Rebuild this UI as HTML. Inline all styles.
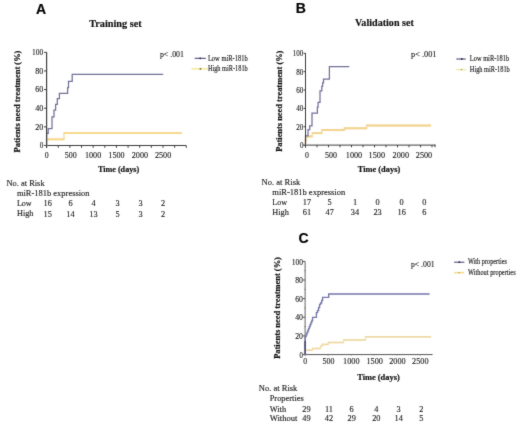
<!DOCTYPE html>
<html><head><meta charset="utf-8"><style>
html,body{margin:0;padding:0;background:#fff;width:520px;height:426px;overflow:hidden;font-family:"Liberation Serif",serif;}
svg{display:block;will-change:transform}
</style></head><body>
<svg width="520" height="426" viewBox="0 0 520 426">
<defs><filter id="bl" x="0" y="0" width="1" height="1" color-interpolation-filters="sRGB"><feConvolveMatrix order="3" kernelMatrix="0.02 0.07 0.02 0.07 0.64 0.07 0.02 0.07 0.02" edgeMode="duplicate" preserveAlpha="true"/></filter></defs>
<g filter="url(#bl)">
<rect width="520" height="426" fill="#fff"/>
<text x="36.0" y="14" font-family="'Liberation Sans', sans-serif" font-size="14" font-weight="bold" fill="#000" stroke="#000" stroke-width="0.18">A</text>
<text x="89.2" y="26.6" font-family="'Liberation Serif', serif" font-size="10.8" font-weight="bold" textLength="52.5" lengthAdjust="spacingAndGlyphs" fill="#111" stroke="#111" stroke-width="0.18">Training set</text>
<text transform="translate(20.0,152.4) rotate(-90)" font-family="'Liberation Serif', serif" font-size="8.8" font-weight="bold" textLength="101.8" lengthAdjust="spacingAndGlyphs" fill="#111" stroke="#111" stroke-width="0.2">Patients need treatment (%)</text>
<line x1="46.6" y1="52.3" x2="46.6" y2="147.8" stroke="#3c3c3c" stroke-width="1"/>
<line x1="44.0" y1="145.5" x2="186.3" y2="145.5" stroke="#3c3c3c" stroke-width="1"/>
<line x1="44.0" y1="52.3" x2="46.6" y2="52.3" stroke="#3c3c3c" stroke-width="1"/>
<text x="43.3" y="55.4" font-family="'Liberation Serif', serif" font-size="9" text-anchor="end" textLength="11.2" lengthAdjust="spacingAndGlyphs" fill="#222" stroke="#222" stroke-width="0.14">100</text>
<line x1="44.0" y1="70.94" x2="46.6" y2="70.94" stroke="#3c3c3c" stroke-width="1"/>
<text x="43.3" y="73.8" font-family="'Liberation Serif', serif" font-size="9" text-anchor="end" textLength="8.1" lengthAdjust="spacingAndGlyphs" fill="#222" stroke="#222" stroke-width="0.14">80</text>
<line x1="44.0" y1="89.58" x2="46.6" y2="89.58" stroke="#3c3c3c" stroke-width="1"/>
<text x="43.3" y="92.3" font-family="'Liberation Serif', serif" font-size="9" text-anchor="end" textLength="8.1" lengthAdjust="spacingAndGlyphs" fill="#222" stroke="#222" stroke-width="0.14">60</text>
<line x1="44.0" y1="108.22" x2="46.6" y2="108.22" stroke="#3c3c3c" stroke-width="1"/>
<text x="43.3" y="111.3" font-family="'Liberation Serif', serif" font-size="9" text-anchor="end" textLength="8.1" lengthAdjust="spacingAndGlyphs" fill="#222" stroke="#222" stroke-width="0.14">40</text>
<line x1="44.0" y1="126.86" x2="46.6" y2="126.86" stroke="#3c3c3c" stroke-width="1"/>
<text x="43.3" y="129.6" font-family="'Liberation Serif', serif" font-size="9" text-anchor="end" textLength="8.1" lengthAdjust="spacingAndGlyphs" fill="#222" stroke="#222" stroke-width="0.14">20</text>
<line x1="44.0" y1="145.5" x2="46.6" y2="145.5" stroke="#3c3c3c" stroke-width="1"/>
<text x="43.3" y="147.8" font-family="'Liberation Serif', serif" font-size="9" text-anchor="end" textLength="3.6" lengthAdjust="spacingAndGlyphs" fill="#222" stroke="#222" stroke-width="0.14">0</text>
<line x1="46.6" y1="145.5" x2="46.6" y2="147.8" stroke="#3c3c3c" stroke-width="1"/>
<line x1="58.24" y1="145.5" x2="58.24" y2="147.8" stroke="#3c3c3c" stroke-width="1"/>
<line x1="69.88" y1="145.5" x2="69.88" y2="147.8" stroke="#3c3c3c" stroke-width="1"/>
<line x1="81.52000000000001" y1="145.5" x2="81.52000000000001" y2="147.8" stroke="#3c3c3c" stroke-width="1"/>
<line x1="93.16" y1="145.5" x2="93.16" y2="147.8" stroke="#3c3c3c" stroke-width="1"/>
<line x1="104.80000000000001" y1="145.5" x2="104.80000000000001" y2="147.8" stroke="#3c3c3c" stroke-width="1"/>
<line x1="116.44" y1="145.5" x2="116.44" y2="147.8" stroke="#3c3c3c" stroke-width="1"/>
<line x1="128.08" y1="145.5" x2="128.08" y2="147.8" stroke="#3c3c3c" stroke-width="1"/>
<line x1="139.72" y1="145.5" x2="139.72" y2="147.8" stroke="#3c3c3c" stroke-width="1"/>
<line x1="151.36" y1="145.5" x2="151.36" y2="147.8" stroke="#3c3c3c" stroke-width="1"/>
<line x1="163.0" y1="145.5" x2="163.0" y2="147.8" stroke="#3c3c3c" stroke-width="1"/>
<line x1="174.64000000000001" y1="145.5" x2="174.64000000000001" y2="147.8" stroke="#3c3c3c" stroke-width="1"/>
<line x1="186.28" y1="145.5" x2="186.28" y2="147.8" stroke="#3c3c3c" stroke-width="1"/>
<text x="46.7" y="157.6" font-family="'Liberation Serif', serif" font-size="9" text-anchor="middle" textLength="3.9" lengthAdjust="spacingAndGlyphs" fill="#222" stroke="#222" stroke-width="0.14">0</text>
<text x="70.7" y="157.6" font-family="'Liberation Serif', serif" font-size="9" text-anchor="middle" textLength="11.9" lengthAdjust="spacingAndGlyphs" fill="#222" stroke="#222" stroke-width="0.14">500</text>
<text x="93.1" y="157.6" font-family="'Liberation Serif', serif" font-size="9" text-anchor="middle" textLength="16.3" lengthAdjust="spacingAndGlyphs" fill="#222" stroke="#222" stroke-width="0.14">1000</text>
<text x="116.5" y="157.6" font-family="'Liberation Serif', serif" font-size="9" text-anchor="middle" textLength="16.3" lengthAdjust="spacingAndGlyphs" fill="#222" stroke="#222" stroke-width="0.14">1500</text>
<text x="139.9" y="157.6" font-family="'Liberation Serif', serif" font-size="9" text-anchor="middle" textLength="16.3" lengthAdjust="spacingAndGlyphs" fill="#222" stroke="#222" stroke-width="0.14">2000</text>
<text x="163.1" y="157.6" font-family="'Liberation Serif', serif" font-size="9" text-anchor="middle" textLength="16.3" lengthAdjust="spacingAndGlyphs" fill="#222" stroke="#222" stroke-width="0.14">2500</text>
<text x="97.9" y="171.7" font-family="'Liberation Serif', serif" font-size="8.3" font-weight="bold" textLength="41.3" lengthAdjust="spacingAndGlyphs" fill="#111" stroke="#111" stroke-width="0.18">Time (days)</text>
<text x="159.9" y="56.8" font-family="'Liberation Serif', serif" font-size="8.5" textLength="24" lengthAdjust="spacingAndGlyphs" fill="#222" stroke="#222" stroke-width="0.14">p&lt; .001</text>
<line x1="194.7" y1="58.3" x2="205.8" y2="58.3" stroke="#3a3a6a" stroke-width="1.0"/>
<circle cx="200.2" cy="58.3" r="0.9" fill="#22224a"/>
<line x1="191.4" y1="68.8" x2="207.6" y2="68.8" stroke="#f4efb0" stroke-width="2"/>
<circle cx="200.4" cy="68.8" r="0.9" fill="#6b6430"/>
<text x="207.9" y="61" font-family="'Liberation Serif', serif" font-size="7.2" textLength="39.8" lengthAdjust="spacingAndGlyphs" fill="#222" stroke="#222" stroke-width="0.14">Low miR-181b</text>
<text x="207.9" y="71" font-family="'Liberation Serif', serif" font-size="7.2" textLength="39.8" lengthAdjust="spacingAndGlyphs" fill="#222" stroke="#222" stroke-width="0.14">High miR-181b</text>
<path d="M46.6,145.5 L46.6,145.5 L46.6,139.3 L64.0,139.3 L64.0,132.9 L181.5,132.9 L181.5,132.9" fill="none" stroke="#f8e8c0" stroke-width="2.0" stroke-linejoin="miter"/>
<line x1="46.3" y1="139.3" x2="64.3" y2="139.3" stroke="#f6d98e" stroke-width="2.0"/>
<line x1="63.7" y1="132.9" x2="181.8" y2="132.9" stroke="#f6d98e" stroke-width="2.0"/>
<path d="M46.6,145.5 L46.6,145.5 L46.6,133.4 L48.2,133.4 L48.2,128.5 L52.0,128.5 L52.0,116.9 L54.0,116.9 L54.0,110.2 L55.6,110.2 L55.6,104.4 L57.3,104.4 L57.3,98.7 L59.4,98.7 L59.4,93.3 L67.6,93.3 L67.6,87.5 L68.5,87.5 L68.5,81.4 L72.2,81.4 L72.2,74.4 L163.2,74.4 L163.2,74.4" fill="none" stroke="#71709a" stroke-width="1.25" stroke-linejoin="miter"/>
<line x1="46.6" y1="52.3" x2="46.6" y2="147.8" stroke="#3c3c3c" stroke-width="1"/>
<text x="6.5" y="185.8" font-family="'Liberation Serif', serif" font-size="8.3" textLength="38.1" lengthAdjust="spacingAndGlyphs" fill="#222" stroke="#222" stroke-width="0.14">No. at Risk</text>
<text x="16.9" y="195.8" font-family="'Liberation Serif', serif" font-size="8.3" textLength="72.7" lengthAdjust="spacingAndGlyphs" fill="#222" stroke="#222" stroke-width="0.14">miR-181b expression</text>
<text x="16.9" y="206.3" font-family="'Liberation Serif', serif" font-size="8.3" textLength="14.8" lengthAdjust="spacingAndGlyphs" fill="#222" stroke="#222" stroke-width="0.14">Low</text>
<text x="16.9" y="216.4" font-family="'Liberation Serif', serif" font-size="8.3" textLength="16.6" lengthAdjust="spacingAndGlyphs" fill="#222" stroke="#222" stroke-width="0.14">High</text>
<text x="47.7" y="206.4" font-family="'Liberation Serif', serif" font-size="8.3" text-anchor="middle" fill="#222" stroke="#222" stroke-width="0.14">16</text>
<text x="47.7" y="216.7" font-family="'Liberation Serif', serif" font-size="8.3" text-anchor="middle" fill="#222" stroke="#222" stroke-width="0.14">15</text>
<text x="70.5" y="206.4" font-family="'Liberation Serif', serif" font-size="8.3" text-anchor="middle" fill="#222" stroke="#222" stroke-width="0.14">6</text>
<text x="70.5" y="216.7" font-family="'Liberation Serif', serif" font-size="8.3" text-anchor="middle" fill="#222" stroke="#222" stroke-width="0.14">14</text>
<text x="93.5" y="206.4" font-family="'Liberation Serif', serif" font-size="8.3" text-anchor="middle" fill="#222" stroke="#222" stroke-width="0.14">4</text>
<text x="93.5" y="216.7" font-family="'Liberation Serif', serif" font-size="8.3" text-anchor="middle" fill="#222" stroke="#222" stroke-width="0.14">13</text>
<text x="117.5" y="206.4" font-family="'Liberation Serif', serif" font-size="8.3" text-anchor="middle" fill="#222" stroke="#222" stroke-width="0.14">3</text>
<text x="117.5" y="216.7" font-family="'Liberation Serif', serif" font-size="8.3" text-anchor="middle" fill="#222" stroke="#222" stroke-width="0.14">5</text>
<text x="140.6" y="206.4" font-family="'Liberation Serif', serif" font-size="8.3" text-anchor="middle" fill="#222" stroke="#222" stroke-width="0.14">3</text>
<text x="140.6" y="216.7" font-family="'Liberation Serif', serif" font-size="8.3" text-anchor="middle" fill="#222" stroke="#222" stroke-width="0.14">3</text>
<text x="163.1" y="206.4" font-family="'Liberation Serif', serif" font-size="8.3" text-anchor="middle" fill="#222" stroke="#222" stroke-width="0.14">2</text>
<text x="163.1" y="216.7" font-family="'Liberation Serif', serif" font-size="8.3" text-anchor="middle" fill="#222" stroke="#222" stroke-width="0.14">2</text>
<text x="295.8" y="13" font-family="'Liberation Sans', sans-serif" font-size="14" font-weight="bold" fill="#000" stroke="#000" stroke-width="0.18">B</text>
<text x="355.0" y="26.4" font-family="'Liberation Serif', serif" font-size="10.8" font-weight="bold" textLength="58.8" lengthAdjust="spacingAndGlyphs" fill="#111" stroke="#111" stroke-width="0.18">Validation set</text>
<text transform="translate(282.0,151.8) rotate(-90)" font-family="'Liberation Serif', serif" font-size="8.8" font-weight="bold" textLength="101.2" lengthAdjust="spacingAndGlyphs" fill="#111" stroke="#111" stroke-width="0.2">Patients need treatment (%)</text>
<line x1="305.5" y1="53.3" x2="305.5" y2="147.4" stroke="#3c3c3c" stroke-width="1"/>
<line x1="303.4" y1="145.1" x2="435.4" y2="145.1" stroke="#3c3c3c" stroke-width="1"/>
<line x1="303.5" y1="53.3" x2="305.5" y2="53.3" stroke="#3c3c3c" stroke-width="1"/>
<text x="303.4" y="56.099999999999994" font-family="'Liberation Serif', serif" font-size="9" text-anchor="end" textLength="10.6" lengthAdjust="spacingAndGlyphs" fill="#222" stroke="#222" stroke-width="0.14">100</text>
<line x1="303.5" y1="71.66" x2="305.5" y2="71.66" stroke="#3c3c3c" stroke-width="1"/>
<text x="303.4" y="74.89999999999999" font-family="'Liberation Serif', serif" font-size="9" text-anchor="end" textLength="7.1" lengthAdjust="spacingAndGlyphs" fill="#222" stroke="#222" stroke-width="0.14">80</text>
<line x1="303.5" y1="90.02" x2="305.5" y2="90.02" stroke="#3c3c3c" stroke-width="1"/>
<text x="303.4" y="93.1" font-family="'Liberation Serif', serif" font-size="9" text-anchor="end" textLength="7.1" lengthAdjust="spacingAndGlyphs" fill="#222" stroke="#222" stroke-width="0.14">60</text>
<line x1="303.5" y1="108.38" x2="305.5" y2="108.38" stroke="#3c3c3c" stroke-width="1"/>
<text x="303.4" y="111.0" font-family="'Liberation Serif', serif" font-size="9" text-anchor="end" textLength="7.1" lengthAdjust="spacingAndGlyphs" fill="#222" stroke="#222" stroke-width="0.14">40</text>
<line x1="303.5" y1="126.74" x2="305.5" y2="126.74" stroke="#3c3c3c" stroke-width="1"/>
<text x="303.4" y="130.0" font-family="'Liberation Serif', serif" font-size="9" text-anchor="end" textLength="7.1" lengthAdjust="spacingAndGlyphs" fill="#222" stroke="#222" stroke-width="0.14">20</text>
<line x1="303.5" y1="145.1" x2="305.5" y2="145.1" stroke="#3c3c3c" stroke-width="1"/>
<text x="303.4" y="147.9" font-family="'Liberation Serif', serif" font-size="9" text-anchor="end" textLength="3.5" lengthAdjust="spacingAndGlyphs" fill="#222" stroke="#222" stroke-width="0.14">0</text>
<line x1="305.5" y1="145.1" x2="305.5" y2="147.3" stroke="#3c3c3c" stroke-width="1"/>
<line x1="317.0" y1="145.1" x2="317.0" y2="147.3" stroke="#3c3c3c" stroke-width="1"/>
<line x1="328.5" y1="145.1" x2="328.5" y2="147.3" stroke="#3c3c3c" stroke-width="1"/>
<line x1="340.0" y1="145.1" x2="340.0" y2="147.3" stroke="#3c3c3c" stroke-width="1"/>
<line x1="351.5" y1="145.1" x2="351.5" y2="147.3" stroke="#3c3c3c" stroke-width="1"/>
<line x1="363.0" y1="145.1" x2="363.0" y2="147.3" stroke="#3c3c3c" stroke-width="1"/>
<line x1="374.5" y1="145.1" x2="374.5" y2="147.3" stroke="#3c3c3c" stroke-width="1"/>
<line x1="386.0" y1="145.1" x2="386.0" y2="147.3" stroke="#3c3c3c" stroke-width="1"/>
<line x1="397.5" y1="145.1" x2="397.5" y2="147.3" stroke="#3c3c3c" stroke-width="1"/>
<line x1="409.0" y1="145.1" x2="409.0" y2="147.3" stroke="#3c3c3c" stroke-width="1"/>
<line x1="420.5" y1="145.1" x2="420.5" y2="147.3" stroke="#3c3c3c" stroke-width="1"/>
<line x1="432.0" y1="145.1" x2="432.0" y2="147.3" stroke="#3c3c3c" stroke-width="1"/>
<line x1="435.0" y1="144.6" x2="435.0" y2="147.3" stroke="#3c3c3c" stroke-width="1"/>
<text x="306.9" y="157.6" font-family="'Liberation Serif', serif" font-size="9" text-anchor="middle" textLength="3.9" lengthAdjust="spacingAndGlyphs" fill="#222" stroke="#222" stroke-width="0.14">0</text>
<text x="331.0" y="157.6" font-family="'Liberation Serif', serif" font-size="9" text-anchor="middle" textLength="12.0" lengthAdjust="spacingAndGlyphs" fill="#222" stroke="#222" stroke-width="0.14">500</text>
<text x="354.0" y="157.6" font-family="'Liberation Serif', serif" font-size="9" text-anchor="middle" textLength="16.4" lengthAdjust="spacingAndGlyphs" fill="#222" stroke="#222" stroke-width="0.14">1000</text>
<text x="376.8" y="157.6" font-family="'Liberation Serif', serif" font-size="9" text-anchor="middle" textLength="16.4" lengthAdjust="spacingAndGlyphs" fill="#222" stroke="#222" stroke-width="0.14">1500</text>
<text x="400.8" y="157.6" font-family="'Liberation Serif', serif" font-size="9" text-anchor="middle" textLength="16.4" lengthAdjust="spacingAndGlyphs" fill="#222" stroke="#222" stroke-width="0.14">2000</text>
<text x="424.0" y="157.6" font-family="'Liberation Serif', serif" font-size="9" text-anchor="middle" textLength="16.4" lengthAdjust="spacingAndGlyphs" fill="#222" stroke="#222" stroke-width="0.14">2500</text>
<text x="357.8" y="171.7" font-family="'Liberation Serif', serif" font-size="8.3" font-weight="bold" textLength="42.4" lengthAdjust="spacingAndGlyphs" fill="#111" stroke="#111" stroke-width="0.18">Time (days)</text>
<text x="411.0" y="57.1" font-family="'Liberation Serif', serif" font-size="8.5" textLength="25.5" lengthAdjust="spacingAndGlyphs" fill="#222" stroke="#222" stroke-width="0.14">p&lt; .001</text>
<line x1="456.3" y1="59.0" x2="465.7" y2="59.0" stroke="#3a3a6a" stroke-width="1.0"/>
<circle cx="461.8" cy="59.0" r="0.9" fill="#22224a"/>
<line x1="456.3" y1="69.6" x2="466.0" y2="69.6" stroke="#f0e9a8" stroke-width="1.6"/>
<circle cx="461.5" cy="69.6" r="0.7" fill="#8a8040"/>
<text x="469.8" y="61" font-family="'Liberation Serif', serif" font-size="7.2" textLength="39.3" lengthAdjust="spacingAndGlyphs" fill="#222" stroke="#222" stroke-width="0.14">Low miR-181b</text>
<text x="469.8" y="72" font-family="'Liberation Serif', serif" font-size="7.2" textLength="40.0" lengthAdjust="spacingAndGlyphs" fill="#222" stroke="#222" stroke-width="0.14">High miR-181b</text>
<path d="M305.5,145.1 L305.5,145.1 L305.5,140.0 L306.3,140.0 L306.3,136.4 L312.3,136.4 L312.3,133.1 L321.8,133.1 L321.8,130.0 L344.4,130.0 L344.4,128.3 L366.6,128.3 L366.6,125.4 L430.7,125.4 L430.7,125.4" fill="none" stroke="#f6e6c0" stroke-width="2.0" stroke-linejoin="miter"/>
<line x1="305.2" y1="140.0" x2="306.6" y2="140.0" stroke="#f3d48e" stroke-width="2.0"/>
<line x1="306.0" y1="136.4" x2="312.6" y2="136.4" stroke="#f3d48e" stroke-width="2.0"/>
<line x1="312.0" y1="133.1" x2="322.1" y2="133.1" stroke="#f3d48e" stroke-width="2.0"/>
<line x1="321.5" y1="130.0" x2="344.7" y2="130.0" stroke="#f3d48e" stroke-width="2.0"/>
<line x1="344.1" y1="128.3" x2="366.9" y2="128.3" stroke="#f3d48e" stroke-width="2.0"/>
<line x1="366.3" y1="125.4" x2="431.0" y2="125.4" stroke="#f3d48e" stroke-width="2.0"/>
<path d="M305.5,145.1 L305.5,145.1 L305.5,135.8 L308.0,135.8 L308.0,129.6 L309.7,129.6 L309.7,125.8 L312.0,125.8 L312.0,113.0 L317.4,113.0 L317.4,107.0 L318.1,107.0 L318.1,102.3 L320.0,102.3 L320.0,90.9 L321.8,90.9 L321.8,86.4 L322.6,86.4 L322.6,82.9 L323.5,82.9 L323.5,79.0 L329.4,79.0 L329.4,66.5 L349.3,66.5 L349.3,66.5" fill="none" stroke="#71709a" stroke-width="1.25" stroke-linejoin="miter"/>
<line x1="305.5" y1="53.3" x2="305.5" y2="147.4" stroke="#3c3c3c" stroke-width="1"/>
<text x="261.6" y="184.7" font-family="'Liberation Serif', serif" font-size="8.3" textLength="38.7" lengthAdjust="spacingAndGlyphs" fill="#222" stroke="#222" stroke-width="0.14">No. at Risk</text>
<text x="272.3" y="195.1" font-family="'Liberation Serif', serif" font-size="8.3" textLength="72.9" lengthAdjust="spacingAndGlyphs" fill="#222" stroke="#222" stroke-width="0.14">miR-181b expression</text>
<text x="272.3" y="204.8" font-family="'Liberation Serif', serif" font-size="8.3" textLength="14.8" lengthAdjust="spacingAndGlyphs" fill="#222" stroke="#222" stroke-width="0.14">Low</text>
<text x="272.3" y="215.0" font-family="'Liberation Serif', serif" font-size="8.3" textLength="16.6" lengthAdjust="spacingAndGlyphs" fill="#222" stroke="#222" stroke-width="0.14">High</text>
<text x="306.9" y="204.8" font-family="'Liberation Serif', serif" font-size="8.3" text-anchor="middle" fill="#222" stroke="#222" stroke-width="0.14">17</text>
<text x="306.9" y="215.2" font-family="'Liberation Serif', serif" font-size="8.3" text-anchor="middle" fill="#222" stroke="#222" stroke-width="0.14">61</text>
<text x="329.7" y="204.8" font-family="'Liberation Serif', serif" font-size="8.3" text-anchor="middle" fill="#222" stroke="#222" stroke-width="0.14">5</text>
<text x="329.7" y="215.2" font-family="'Liberation Serif', serif" font-size="8.3" text-anchor="middle" fill="#222" stroke="#222" stroke-width="0.14">47</text>
<text x="355.0" y="204.8" font-family="'Liberation Serif', serif" font-size="8.3" text-anchor="middle" fill="#222" stroke="#222" stroke-width="0.14">1</text>
<text x="355.0" y="215.2" font-family="'Liberation Serif', serif" font-size="8.3" text-anchor="middle" fill="#222" stroke="#222" stroke-width="0.14">34</text>
<text x="377.6" y="204.8" font-family="'Liberation Serif', serif" font-size="8.3" text-anchor="middle" fill="#222" stroke="#222" stroke-width="0.14">0</text>
<text x="377.6" y="215.2" font-family="'Liberation Serif', serif" font-size="8.3" text-anchor="middle" fill="#222" stroke="#222" stroke-width="0.14">23</text>
<text x="401.7" y="204.8" font-family="'Liberation Serif', serif" font-size="8.3" text-anchor="middle" fill="#222" stroke="#222" stroke-width="0.14">0</text>
<text x="401.7" y="215.2" font-family="'Liberation Serif', serif" font-size="8.3" text-anchor="middle" fill="#222" stroke="#222" stroke-width="0.14">16</text>
<text x="424.4" y="204.8" font-family="'Liberation Serif', serif" font-size="8.3" text-anchor="middle" fill="#222" stroke="#222" stroke-width="0.14">0</text>
<text x="424.4" y="215.2" font-family="'Liberation Serif', serif" font-size="8.3" text-anchor="middle" fill="#222" stroke="#222" stroke-width="0.14">6</text>
<text x="298.6" y="243" font-family="'Liberation Sans', sans-serif" font-size="14" font-weight="bold" fill="#000" stroke="#000" stroke-width="0.18">C</text>
<text transform="translate(280.3,358.8) rotate(-90)" font-family="'Liberation Serif', serif" font-size="8.8" font-weight="bold" textLength="101.7" lengthAdjust="spacingAndGlyphs" fill="#111" stroke="#111" stroke-width="0.2">Patients need treatment (%)</text>
<line x1="305.1" y1="261.4" x2="305.1" y2="356.0" stroke="#606060" stroke-width="1"/>
<line x1="305.1" y1="354.5" x2="432.6" y2="354.5" stroke="#606060" stroke-width="1"/>
<line x1="302.9" y1="261.4" x2="305.1" y2="261.4" stroke="#555" stroke-width="1"/>
<text x="303.0" y="264.8" font-family="'Liberation Serif', serif" font-size="9" text-anchor="end" textLength="11.3" lengthAdjust="spacingAndGlyphs" fill="#222" stroke="#222" stroke-width="0.14">100</text>
<line x1="302.9" y1="280.02" x2="305.1" y2="280.02" stroke="#555" stroke-width="1"/>
<text x="303.0" y="283.0" font-family="'Liberation Serif', serif" font-size="9" text-anchor="end" textLength="7.8" lengthAdjust="spacingAndGlyphs" fill="#222" stroke="#222" stroke-width="0.14">80</text>
<line x1="302.9" y1="298.64" x2="305.1" y2="298.64" stroke="#555" stroke-width="1"/>
<text x="303.0" y="301.6" font-family="'Liberation Serif', serif" font-size="9" text-anchor="end" textLength="7.8" lengthAdjust="spacingAndGlyphs" fill="#222" stroke="#222" stroke-width="0.14">60</text>
<line x1="302.9" y1="317.26" x2="305.1" y2="317.26" stroke="#555" stroke-width="1"/>
<text x="303.0" y="320.3" font-family="'Liberation Serif', serif" font-size="9" text-anchor="end" textLength="7.8" lengthAdjust="spacingAndGlyphs" fill="#222" stroke="#222" stroke-width="0.14">40</text>
<line x1="302.9" y1="335.88" x2="305.1" y2="335.88" stroke="#555" stroke-width="1"/>
<text x="303.0" y="339.2" font-family="'Liberation Serif', serif" font-size="9" text-anchor="end" textLength="7.8" lengthAdjust="spacingAndGlyphs" fill="#222" stroke="#222" stroke-width="0.14">20</text>
<line x1="302.9" y1="354.5" x2="305.1" y2="354.5" stroke="#555" stroke-width="1"/>
<text x="303.0" y="357.5" font-family="'Liberation Serif', serif" font-size="9" text-anchor="end" textLength="3.4" lengthAdjust="spacingAndGlyphs" fill="#222" stroke="#222" stroke-width="0.14">0</text>
<line x1="304.3" y1="345.19" x2="305.90000000000003" y2="345.19" stroke="#777" stroke-width="0.8"/>
<line x1="304.3" y1="326.57" x2="305.90000000000003" y2="326.57" stroke="#777" stroke-width="0.8"/>
<line x1="304.3" y1="307.95" x2="305.90000000000003" y2="307.95" stroke="#777" stroke-width="0.8"/>
<line x1="304.3" y1="289.33" x2="305.90000000000003" y2="289.33" stroke="#777" stroke-width="0.8"/>
<line x1="304.3" y1="270.71" x2="305.90000000000003" y2="270.71" stroke="#777" stroke-width="0.8"/>
<line x1="307.40000000000003" y1="354.5" x2="307.40000000000003" y2="355.4" stroke="#777" stroke-width="0.6"/>
<line x1="309.70000000000005" y1="354.5" x2="309.70000000000005" y2="355.4" stroke="#777" stroke-width="0.6"/>
<line x1="312.0" y1="354.5" x2="312.0" y2="355.4" stroke="#777" stroke-width="0.6"/>
<line x1="314.3" y1="354.5" x2="314.3" y2="355.4" stroke="#777" stroke-width="0.6"/>
<line x1="316.6" y1="354.5" x2="316.6" y2="355.4" stroke="#777" stroke-width="0.6"/>
<line x1="318.90000000000003" y1="354.5" x2="318.90000000000003" y2="355.4" stroke="#777" stroke-width="0.6"/>
<line x1="321.20000000000005" y1="354.5" x2="321.20000000000005" y2="355.4" stroke="#777" stroke-width="0.6"/>
<line x1="323.5" y1="354.5" x2="323.5" y2="355.4" stroke="#777" stroke-width="0.6"/>
<line x1="325.8" y1="354.5" x2="325.8" y2="355.4" stroke="#777" stroke-width="0.6"/>
<line x1="328.1" y1="354.5" x2="328.1" y2="356.1" stroke="#777" stroke-width="0.6"/>
<line x1="330.40000000000003" y1="354.5" x2="330.40000000000003" y2="355.4" stroke="#777" stroke-width="0.6"/>
<line x1="332.70000000000005" y1="354.5" x2="332.70000000000005" y2="355.4" stroke="#777" stroke-width="0.6"/>
<line x1="335.0" y1="354.5" x2="335.0" y2="355.4" stroke="#777" stroke-width="0.6"/>
<line x1="337.3" y1="354.5" x2="337.3" y2="355.4" stroke="#777" stroke-width="0.6"/>
<line x1="339.6" y1="354.5" x2="339.6" y2="355.4" stroke="#777" stroke-width="0.6"/>
<line x1="341.90000000000003" y1="354.5" x2="341.90000000000003" y2="355.4" stroke="#777" stroke-width="0.6"/>
<line x1="344.20000000000005" y1="354.5" x2="344.20000000000005" y2="355.4" stroke="#777" stroke-width="0.6"/>
<line x1="346.5" y1="354.5" x2="346.5" y2="355.4" stroke="#777" stroke-width="0.6"/>
<line x1="348.8" y1="354.5" x2="348.8" y2="355.4" stroke="#777" stroke-width="0.6"/>
<line x1="351.1" y1="354.5" x2="351.1" y2="356.1" stroke="#777" stroke-width="0.6"/>
<line x1="353.40000000000003" y1="354.5" x2="353.40000000000003" y2="355.4" stroke="#777" stroke-width="0.6"/>
<line x1="355.70000000000005" y1="354.5" x2="355.70000000000005" y2="355.4" stroke="#777" stroke-width="0.6"/>
<line x1="358.0" y1="354.5" x2="358.0" y2="355.4" stroke="#777" stroke-width="0.6"/>
<line x1="360.3" y1="354.5" x2="360.3" y2="355.4" stroke="#777" stroke-width="0.6"/>
<line x1="362.6" y1="354.5" x2="362.6" y2="355.4" stroke="#777" stroke-width="0.6"/>
<line x1="364.90000000000003" y1="354.5" x2="364.90000000000003" y2="355.4" stroke="#777" stroke-width="0.6"/>
<line x1="367.20000000000005" y1="354.5" x2="367.20000000000005" y2="355.4" stroke="#777" stroke-width="0.6"/>
<line x1="369.5" y1="354.5" x2="369.5" y2="355.4" stroke="#777" stroke-width="0.6"/>
<line x1="371.8" y1="354.5" x2="371.8" y2="355.4" stroke="#777" stroke-width="0.6"/>
<line x1="374.1" y1="354.5" x2="374.1" y2="356.1" stroke="#777" stroke-width="0.6"/>
<line x1="376.40000000000003" y1="354.5" x2="376.40000000000003" y2="355.4" stroke="#777" stroke-width="0.6"/>
<line x1="378.70000000000005" y1="354.5" x2="378.70000000000005" y2="355.4" stroke="#777" stroke-width="0.6"/>
<line x1="381.0" y1="354.5" x2="381.0" y2="355.4" stroke="#777" stroke-width="0.6"/>
<line x1="383.3" y1="354.5" x2="383.3" y2="355.4" stroke="#777" stroke-width="0.6"/>
<line x1="385.6" y1="354.5" x2="385.6" y2="355.4" stroke="#777" stroke-width="0.6"/>
<line x1="387.90000000000003" y1="354.5" x2="387.90000000000003" y2="355.4" stroke="#777" stroke-width="0.6"/>
<line x1="390.20000000000005" y1="354.5" x2="390.20000000000005" y2="355.4" stroke="#777" stroke-width="0.6"/>
<line x1="392.5" y1="354.5" x2="392.5" y2="355.4" stroke="#777" stroke-width="0.6"/>
<line x1="394.8" y1="354.5" x2="394.8" y2="355.4" stroke="#777" stroke-width="0.6"/>
<line x1="397.1" y1="354.5" x2="397.1" y2="356.1" stroke="#777" stroke-width="0.6"/>
<line x1="399.40000000000003" y1="354.5" x2="399.40000000000003" y2="355.4" stroke="#777" stroke-width="0.6"/>
<line x1="401.70000000000005" y1="354.5" x2="401.70000000000005" y2="355.4" stroke="#777" stroke-width="0.6"/>
<line x1="404.0" y1="354.5" x2="404.0" y2="355.4" stroke="#777" stroke-width="0.6"/>
<line x1="406.3" y1="354.5" x2="406.3" y2="355.4" stroke="#777" stroke-width="0.6"/>
<line x1="408.6" y1="354.5" x2="408.6" y2="355.4" stroke="#777" stroke-width="0.6"/>
<line x1="410.90000000000003" y1="354.5" x2="410.90000000000003" y2="355.4" stroke="#777" stroke-width="0.6"/>
<line x1="413.20000000000005" y1="354.5" x2="413.20000000000005" y2="355.4" stroke="#777" stroke-width="0.6"/>
<line x1="415.5" y1="354.5" x2="415.5" y2="355.4" stroke="#777" stroke-width="0.6"/>
<line x1="417.8" y1="354.5" x2="417.8" y2="355.4" stroke="#777" stroke-width="0.6"/>
<line x1="420.1" y1="354.5" x2="420.1" y2="356.1" stroke="#777" stroke-width="0.6"/>
<line x1="422.40000000000003" y1="354.5" x2="422.40000000000003" y2="355.4" stroke="#777" stroke-width="0.6"/>
<line x1="424.70000000000005" y1="354.5" x2="424.70000000000005" y2="355.4" stroke="#777" stroke-width="0.6"/>
<line x1="427.0" y1="354.5" x2="427.0" y2="355.4" stroke="#777" stroke-width="0.6"/>
<line x1="429.3" y1="354.5" x2="429.3" y2="355.4" stroke="#777" stroke-width="0.6"/>
<line x1="431.6" y1="354.5" x2="431.6" y2="355.4" stroke="#777" stroke-width="0.6"/>
<text x="305.2" y="363.6" font-family="'Liberation Serif', serif" font-size="9" text-anchor="middle" textLength="3.9" lengthAdjust="spacingAndGlyphs" fill="#222" stroke="#222" stroke-width="0.14">0</text>
<text x="328.5" y="363.6" font-family="'Liberation Serif', serif" font-size="9" text-anchor="middle" textLength="12.0" lengthAdjust="spacingAndGlyphs" fill="#222" stroke="#222" stroke-width="0.14">500</text>
<text x="351.3" y="363.6" font-family="'Liberation Serif', serif" font-size="9" text-anchor="middle" textLength="16.5" lengthAdjust="spacingAndGlyphs" fill="#222" stroke="#222" stroke-width="0.14">1000</text>
<text x="374.7" y="363.6" font-family="'Liberation Serif', serif" font-size="9" text-anchor="middle" textLength="16.5" lengthAdjust="spacingAndGlyphs" fill="#222" stroke="#222" stroke-width="0.14">1500</text>
<text x="397.4" y="363.6" font-family="'Liberation Serif', serif" font-size="9" text-anchor="middle" textLength="16.5" lengthAdjust="spacingAndGlyphs" fill="#222" stroke="#222" stroke-width="0.14">2000</text>
<text x="420.3" y="363.6" font-family="'Liberation Serif', serif" font-size="9" text-anchor="middle" textLength="16.5" lengthAdjust="spacingAndGlyphs" fill="#222" stroke="#222" stroke-width="0.14">2500</text>
<text x="357.2" y="380.0" font-family="'Liberation Serif', serif" font-size="8.3" font-weight="bold" textLength="42.6" lengthAdjust="spacingAndGlyphs" fill="#111" stroke="#111" stroke-width="0.18">Time (days)</text>
<text x="411.0" y="266.7" font-family="'Liberation Serif', serif" font-size="8.5" textLength="23.6" lengthAdjust="spacingAndGlyphs" fill="#222" stroke="#222" stroke-width="0.14">p&lt; .001</text>
<line x1="454.1" y1="262.2" x2="464.4" y2="262.2" stroke="#3a3a6a" stroke-width="1.0"/>
<circle cx="459.4" cy="262.2" r="0.9" fill="#22224a"/>
<line x1="454.1" y1="272.7" x2="464.1" y2="272.7" stroke="#f3dc8a" stroke-width="1.6"/>
<circle cx="459.2" cy="272.7" r="0.6" fill="#a08a40"/>
<text x="467.9" y="264" font-family="'Liberation Serif', serif" font-size="7.2" textLength="39.0" lengthAdjust="spacingAndGlyphs" fill="#222" stroke="#222" stroke-width="0.14">With properties</text>
<text x="467.9" y="275" font-family="'Liberation Serif', serif" font-size="7.2" textLength="47.8" lengthAdjust="spacingAndGlyphs" fill="#222" stroke="#222" stroke-width="0.14">Without properties</text>
<path d="M305.1,354.5 L305.1,354.5 L305.1,350.3 L312.4,350.3 L312.4,348.5 L320.6,348.5 L320.6,346.3 L322.0,346.3 L322.0,344.4 L328.2,344.4 L328.2,342.5 L343.5,342.5 L343.5,340.0 L365.4,340.0 L365.4,336.7 L430.8,336.7 L430.8,336.7" fill="none" stroke="#f4e8c8" stroke-width="1.5" stroke-linejoin="miter"/>
<line x1="304.8" y1="350.3" x2="312.7" y2="350.3" stroke="#eed8a0" stroke-width="1.5"/>
<line x1="312.1" y1="348.5" x2="320.9" y2="348.5" stroke="#eed8a0" stroke-width="1.5"/>
<line x1="320.3" y1="346.3" x2="322.3" y2="346.3" stroke="#eed8a0" stroke-width="1.5"/>
<line x1="321.7" y1="344.4" x2="328.5" y2="344.4" stroke="#eed8a0" stroke-width="1.5"/>
<line x1="327.9" y1="342.5" x2="343.8" y2="342.5" stroke="#eed8a0" stroke-width="1.5"/>
<line x1="343.2" y1="340.0" x2="365.7" y2="340.0" stroke="#eed8a0" stroke-width="1.5"/>
<line x1="365.1" y1="336.7" x2="431.1" y2="336.7" stroke="#eed8a0" stroke-width="1.5"/>
<path d="M305.1,354.5 L305.1,354.5 L305.1,336.5 L306.2,336.5 L306.2,334.5 L307.0,334.5 L307.0,332.5 L307.8,332.5 L307.8,330.5 L308.6,330.5 L308.6,328.5 L309.4,328.5 L309.4,326.5 L310.2,326.5 L310.2,324.5 L311.0,324.5 L311.0,322.5 L311.8,322.5 L311.8,320.5 L312.6,320.5 L312.6,317.4 L316.4,317.4 L316.4,312.6 L317.5,312.6 L317.5,310.5 L318.6,310.5 L318.6,307.5 L319.6,307.5 L319.6,304.3 L320.6,304.3 L320.6,303.0 L321.7,303.0 L321.7,300.3 L322.6,300.3 L322.6,297.3 L328.7,297.3 L328.7,294.0 L429.6,294.0 L429.6,294.0" fill="none" stroke="#7676aa" stroke-width="1.35" stroke-linejoin="miter"/>
<line x1="305.1" y1="354.5" x2="305.1" y2="341.0" stroke="#3a3a68" stroke-width="1.2"/>
<text x="258.8" y="390.7" font-family="'Liberation Serif', serif" font-size="8.3" textLength="38.6" lengthAdjust="spacingAndGlyphs" fill="#222" stroke="#222" stroke-width="0.14">No. at Risk</text>
<text x="269.7" y="400.8" font-family="'Liberation Serif', serif" font-size="8.3" textLength="34.1" lengthAdjust="spacingAndGlyphs" fill="#222" stroke="#222" stroke-width="0.14">Properties</text>
<text x="269.7" y="412" font-family="'Liberation Serif', serif" font-size="8.3" textLength="16.4" lengthAdjust="spacingAndGlyphs" fill="#222" stroke="#222" stroke-width="0.14">With</text>
<text x="269.7" y="421" font-family="'Liberation Serif', serif" font-size="8.3" textLength="27.7" lengthAdjust="spacingAndGlyphs" fill="#222" stroke="#222" stroke-width="0.14">Without</text>
<text x="306.4" y="412" font-family="'Liberation Serif', serif" font-size="8.3" text-anchor="middle" fill="#222" stroke="#222" stroke-width="0.14">29</text>
<text x="306.4" y="421" font-family="'Liberation Serif', serif" font-size="8.3" text-anchor="middle" fill="#222" stroke="#222" stroke-width="0.14">49</text>
<text x="329.0" y="412" font-family="'Liberation Serif', serif" font-size="8.3" text-anchor="middle" fill="#222" stroke="#222" stroke-width="0.14">11</text>
<text x="329.0" y="421" font-family="'Liberation Serif', serif" font-size="8.3" text-anchor="middle" fill="#222" stroke="#222" stroke-width="0.14">42</text>
<text x="351.7" y="412" font-family="'Liberation Serif', serif" font-size="8.3" text-anchor="middle" fill="#222" stroke="#222" stroke-width="0.14">6</text>
<text x="351.7" y="421" font-family="'Liberation Serif', serif" font-size="8.3" text-anchor="middle" fill="#222" stroke="#222" stroke-width="0.14">29</text>
<text x="376.3" y="412" font-family="'Liberation Serif', serif" font-size="8.3" text-anchor="middle" fill="#222" stroke="#222" stroke-width="0.14">4</text>
<text x="376.3" y="421" font-family="'Liberation Serif', serif" font-size="8.3" text-anchor="middle" fill="#222" stroke="#222" stroke-width="0.14">20</text>
<text x="398.7" y="412" font-family="'Liberation Serif', serif" font-size="8.3" text-anchor="middle" fill="#222" stroke="#222" stroke-width="0.14">3</text>
<text x="398.7" y="421" font-family="'Liberation Serif', serif" font-size="8.3" text-anchor="middle" fill="#222" stroke="#222" stroke-width="0.14">14</text>
<text x="421.3" y="412" font-family="'Liberation Serif', serif" font-size="8.3" text-anchor="middle" fill="#222" stroke="#222" stroke-width="0.14">2</text>
<text x="421.3" y="421" font-family="'Liberation Serif', serif" font-size="8.3" text-anchor="middle" fill="#222" stroke="#222" stroke-width="0.14">5</text>
</g>
</svg>
</body></html>
